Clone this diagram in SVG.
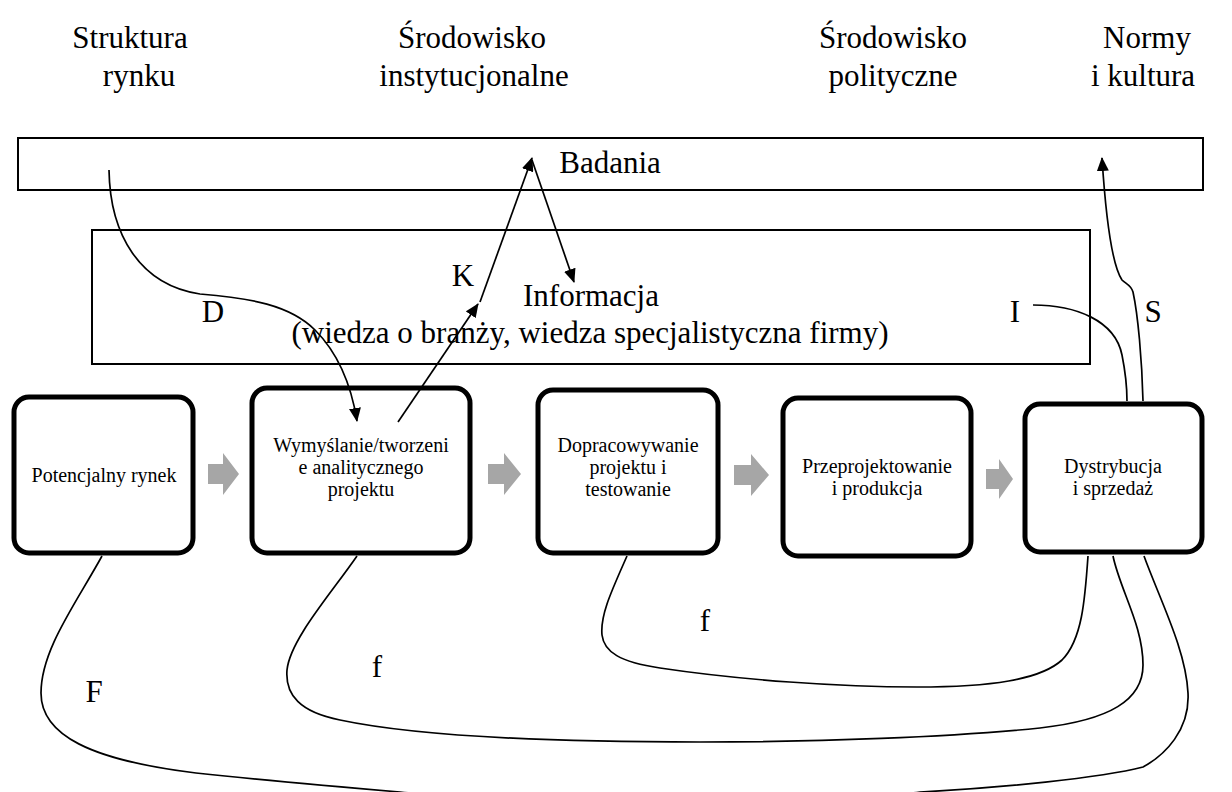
<svg xmlns="http://www.w3.org/2000/svg" width="1232" height="792" viewBox="0 0 1232 792">
  <style>
    text { font-family: 'Liberation Serif', 'Times New Roman', Times, 'DejaVu Serif', serif; fill: #000; text-anchor: middle; }
    .lbl { font-size: 31px; }
    .box-text { font-size: 20px; }
    .frame { fill: #fff; stroke: #000; stroke-width: 2; }
    .stage { fill: #fff; stroke: #000; stroke-width: 5; }
    .flow { fill: #a6a6a6; }
    .link { fill: none; stroke: #000; stroke-width: 1.7; }
  </style>
  <defs>
    <marker id="arrow" viewBox="0 0 14 12" refX="13" refY="6" markerWidth="14" markerHeight="12" markerUnits="userSpaceOnUse" orient="auto">
      <path d="M0,0 L14,6 L0,12 z" fill="#000"/>
    </marker>
  </defs>
  <rect width="1232" height="792" fill="#fff"/>

  <!-- environment factors -->
  <g id="environment">
    <text class="lbl" x="130" y="48">Struktura</text>
    <text class="lbl" x="139" y="86">rynku</text>
    <text class="lbl" x="472" y="48">Środowisko</text>
    <text class="lbl" x="474" y="86">instytucjonalne</text>
    <text class="lbl" x="893" y="48">Środowisko</text>
    <text class="lbl" x="893" y="86">polityczne</text>
    <text class="lbl" x="1147" y="48">Normy</text>
    <text class="lbl" x="1143" y="86">i kultura</text>
  </g>

  <g id="badania">
    <rect class="frame" x="18" y="138" width="1185" height="52"/>
    <text class="lbl" x="610" y="173">Badania</text>
  </g>

  <g id="informacja">
    <rect class="frame" x="92" y="230" width="998" height="134"/>
    <text class="lbl" x="591" y="306">Informacja</text>
    <text class="lbl" x="590" y="343">(wiedza o branży, wiedza specjalistyczna firmy)</text>
  </g>

  <!-- process stages -->
  <g id="stage-rynek">
    <rect class="stage" x="14" y="397" width="179" height="156" rx="15"/>
    <text class="box-text" x="104" y="482">Potencjalny rynek</text>
  </g>
  <g id="stage-projekt">
    <rect class="stage" x="252" y="388" width="218" height="165" rx="15"/>
    <text class="box-text" x="361" y="452">Wymyślanie/tworzeni</text>
    <text class="box-text" x="361" y="474">e analitycznego</text>
    <text class="box-text" x="361" y="496">projektu</text>
  </g>
  <g id="stage-testowanie">
    <rect class="stage" x="538" y="390" width="180" height="163" rx="15"/>
    <text class="box-text" x="628" y="452">Dopracowywanie</text>
    <text class="box-text" x="628" y="474">projektu i</text>
    <text class="box-text" x="628" y="496">testowanie</text>
  </g>
  <g id="stage-produkcja">
    <rect class="stage" x="783" y="398" width="188" height="158" rx="15"/>
    <text class="box-text" x="877" y="473">Przeprojektowanie</text>
    <text class="box-text" x="877" y="495">i produkcja</text>
  </g>
  <g id="stage-sprzedaz">
    <rect class="stage" x="1025" y="404" width="177" height="148" rx="15"/>
    <text class="box-text" x="1113" y="473">Dystrybucja</text>
    <text class="box-text" x="1113" y="495">i sprzedaż</text>
  </g>

  <!-- block arrows between stages -->
  <g id="flow-arrows">
    <path class="flow" d="M208,464 h15 v-11 l16,21 l-16,21 v-11 h-15 z"/>
    <path class="flow" d="M488,464 h16 v-11 l17,21 l-17,21 v-11 h-16 z"/>
    <path class="flow" d="M734,465 h17 v-11 l18,21 l-18,21 v-11 h-17 z"/>
    <path class="flow" d="M986,469 h13 v-10 l14,20 l-14,20 v-10 h-13 z"/>
  </g>

  <!-- connectors -->
  <g id="connectors">
    <path class="link" marker-end="url(#arrow)" d="M109,170 C110,235 140,285 200,294 C250,298 290,305 315,330 C340,355 352,390 357,421"/>
    <path class="link" marker-end="url(#arrow)" d="M398,422 L478,304"/>
    <path class="link" marker-end="url(#arrow)" d="M480,302 L532,158"/>
    <path class="link" marker-end="url(#arrow)" d="M532,160 L574,282"/>
    <path class="link" d="M1033,305 C1075,305 1115,320 1122,355 C1126,375 1127,390 1127,401"/>
    <path class="link" marker-end="url(#arrow)" d="M1143,401 C1142,360 1138,315 1133,292 C1131,285 1126,284 1122,280 C1112,265 1106,220 1102,158"/>
    <path class="link" d="M102,556 C75,605 41,650 41,693 C41,735 90,760 196,773 C280,782 340,787 400,792 C550,808 800,808 920,792 C1000,788 1100,778 1143,767 C1165,755 1190,730 1188,693 C1186,650 1160,600 1144,556"/>
    <path class="link" d="M357,556 C330,595 290,640 287,670 C285,695 300,712 340,720 C420,737 560,742 700,742 C820,742 950,737 1040,728 C1110,720 1143,700 1143,665 C1143,625 1120,590 1113,556"/>
    <path class="link" d="M627,556 C612,590 600,615 602,635 C604,652 620,662 660,668 C740,680 840,687 917,687 C990,687 1040,680 1062,660 C1082,640 1085,600 1088,556"/>
  </g>

  <g id="link-labels">
    <text class="lbl" x="213" y="322">D</text>
    <text class="lbl" x="463" y="286">K</text>
    <text class="lbl" x="1015" y="322">I</text>
    <text class="lbl" x="1153" y="322">S</text>
    <text class="lbl" x="94" y="702">F</text>
    <text class="lbl" x="377" y="677">f</text>
    <text class="lbl" x="705" y="631">f</text>
  </g>
</svg>
